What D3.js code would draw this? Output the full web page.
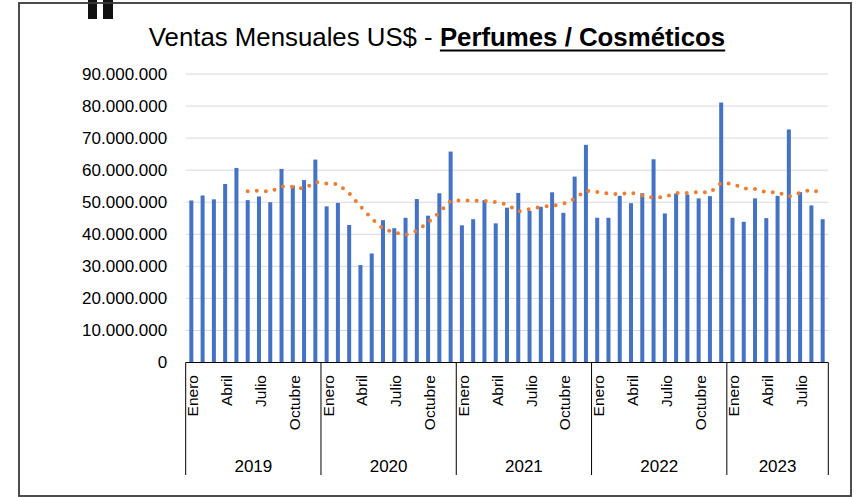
<!DOCTYPE html>
<html lang="es">
<head>
    <meta charset="UTF-8">
    <script src="https://d3js.org/d3.v7.min.js"></script>
    <style>
        body { margin: 0; background: #fff; }
        text { font-family: "Liberation Sans", Arial, sans-serif; fill: #000; }
    </style>
</head>
<body>
<div id="chart"></div>
<script>
    // datos (millones de US$)
    const meses = ["Enero", "Febrero", "Marzo", "Abril", "Mayo", "Junio", "Julio",
        "Agosto", "Septiembre", "Octubre", "Noviembre", "Diciembre"];
    const anios = ["2019", "2020", "2021", "2022", "2023"];
    const mesesPorAnio = [12, 12, 12, 12, 9];

    const ventas = [
        50.55, 52.1, 50.9, 55.7, 60.7, 50.65, 51.8, 50.0, 60.4, 55.2, 56.9, 63.3,   // 2019
        48.7, 49.8, 42.9, 30.4, 34.0, 44.4, 41.9, 45.15, 51.0, 45.8, 52.8, 65.8,    // 2020
        42.8, 44.7, 50.65, 43.4, 48.3, 52.9, 47.3, 48.6, 53.1, 46.7, 58.0, 67.9,    // 2021
        45.15, 45.15, 52.0, 49.7, 52.8, 63.4, 46.5, 52.7, 52.4, 51.2, 51.9, 81.1,   // 2022
        45.15, 43.9, 51.2, 45.05, 52.0, 72.7, 53.15, 49.0, 44.7                     // 2023
    ];

    // media movil 6 meses (linea punteada), desde junio 2019
    const inicioMedia = 5;
    const mediaMovil = [
        53.4, 53.6, 53.3, 54.9, 54.8, 54.2, 56.3, 55.8, 55.7, 52.8, 48.7, 44.9,
        41.7, 40.6, 39.8, 41.1, 43.7, 46.8, 50.4, 50.6, 50.5, 50.4, 50.0, 49.3,
        47.1, 47.9, 48.5, 48.9, 49.5, 51.1, 53.6, 53.2, 52.7, 52.5, 53.0, 52.1,
        51.4, 51.6, 52.9, 52.9, 53.2, 53.0, 56.0, 55.7, 54.3, 54.1, 53.1, 53.1,
        51.7, 53.0, 53.9, 52.8
    ];

    const yTicks = [0, 10, 20, 30, 40, 50, 60, 70, 80, 90];

    // categorias mes/anio
    const categorias = [];
    anios.forEach((a, ai) => {
        for (let m = 0; m < mesesPorAnio[ai]; m++) categorias.push({ anio: a, mes: m, i: categorias.length });
    });

    const width = 856, height = 497;
    const plot = { left: 185.7, right: 828.3, top: 74, bottom: 362.5 };

    const svg = d3.select("#chart")
        .append("svg")
        .attr("width", width)
        .attr("height", height);

    svg.append("rect")
        .attr("width", width).attr("height", height)
        .attr("fill", "#fff");

    // restos negros arriba a la izquierda (recorte de la captura)
    svg.append("rect").attr("x", 88).attr("y", 0).attr("width", 9).attr("height", 19).attr("fill", "#111");
    svg.append("rect").attr("x", 103).attr("y", 0).attr("width", 10).attr("height", 19).attr("fill", "#111");

    // marco
    svg.append("rect")
        .attr("x", 19).attr("y", 3)
        .attr("width", 832).attr("height", 493)
        .attr("fill", "none")
        .attr("stroke", "#3a3a3a")
        .attr("stroke-width", 1.8);

    const x = d3.scaleBand()
        .domain(categorias.map(d => d.i))
        .range([plot.left, plot.right])
        .paddingInner(0.645)
        .paddingOuter(0.3225);

    const y = d3.scaleLinear()
        .domain([0, 90])
        .range([plot.bottom, plot.top]);

    const es = d3.formatLocale({ decimal: ",", thousands: ".", grouping: [3], currency: ["", "$"] });
    const fmt = es.format(",d");

    // grilla
    svg.append("g")
        .selectAll("line")
        .data(yTicks.filter(d => d > 0))
        .join("line")
        .attr("x1", plot.left).attr("x2", plot.right)
        .attr("y1", d => y(d)).attr("y2", d => y(d))
        .attr("stroke", "#d9d9d9")
        .attr("stroke-width", 1);

    // eje y
    const yAxis = svg.append("g")
        .attr("transform", `translate(${plot.left - 18.5},0)`)
        .call(d3.axisLeft(y).tickValues(yTicks).tickSize(0).tickPadding(0).tickFormat(d => fmt(d * 1e6)));
    yAxis.select(".domain").remove();
    yAxis.selectAll("text")
        .style("font-family", '"Liberation Sans", Arial, sans-serif')
        .style("font-size", "17px")
        .attr("fill", "#000");

    // barras
    svg.append("g")
        .selectAll("rect")
        .data(categorias)
        .join("rect")
        .attr("x", d => x(d.i))
        .attr("width", x.bandwidth())
        .attr("y", d => y(ventas[d.i]))
        .attr("height", d => y(0) - y(ventas[d.i]))
        .attr("fill", "#4472c4");

    // eje x
    svg.append("line")
        .attr("x1", plot.left).attr("x2", plot.right)
        .attr("y1", plot.bottom).attr("y2", plot.bottom)
        .attr("stroke", "#000").attr("stroke-width", 1);

    // media movil
    const line = d3.line()
        .x((d, k) => x(k + inicioMedia) + x.bandwidth() / 2)
        .y(d => y(d));
    svg.append("path")
        .datum(mediaMovil)
        .attr("d", line)
        .attr("fill", "none")
        .attr("stroke", "#ed7d31")
        .attr("stroke-width", 4)
        .attr("stroke-linecap", "round")
        .attr("stroke-dasharray", "0 9.1");

    // etiquetas de meses (cada 3)
    const step = x.step();
    svg.append("g")
        .selectAll("text")
        .data(categorias.filter(d => d.mes % 3 === 0))
        .join("text")
        .attr("transform", d => `translate(${x(d.i) + x.bandwidth() / 2 + 7},375) rotate(-90)`)
        .attr("text-anchor", "end")
        .style("font-size", "15.5px")
        .text(d => meses[d.mes]);

    // separadores y anios
    let acumulado = 0;
    const limites = [0];
    mesesPorAnio.forEach(n => { acumulado += n; limites.push(acumulado); });
    const xLim = k => plot.left + k * step;

    svg.append("g")
        .selectAll("line")
        .data(limites)
        .join("line")
        .attr("x1", d => xLim(d)).attr("x2", d => xLim(d))
        .attr("y1", plot.bottom).attr("y2", 475)
        .attr("stroke", "#000").attr("stroke-width", 1);

    svg.append("g")
        .selectAll("text")
        .data(anios)
        .join("text")
        .attr("x", (d, i) => (xLim(limites[i]) + xLim(limites[i + 1])) / 2)
        .attr("y", 471.5)
        .attr("text-anchor", "middle")
        .style("font-size", "17px")
        .text(d => d);

    // titulo
    const titulo = svg.append("text")
        .attr("x", 437)
        .attr("y", 46)
        .attr("text-anchor", "middle")
        .style("font-size", "25.8px");
    titulo.append("tspan").text("Ventas Mensuales US$ - ");
    titulo.append("tspan").attr("font-weight", "bold").text("Perfumes / Cosméticos");

    const node = titulo.node();
    const nRegular = "Ventas Mensuales US$ - ".length;
    const total = node.getComputedTextLength();
    const inicioTexto = 437 - total / 2;
    const anchoRegular = node.getSubStringLength(0, nRegular);
    svg.append("line")
        .attr("x1", inicioTexto + anchoRegular)
        .attr("x2", inicioTexto + total)
        .attr("y1", 50.5).attr("y2", 50.5)
        .attr("stroke", "#000").attr("stroke-width", 1.8);
</script>
</body>
</html>
